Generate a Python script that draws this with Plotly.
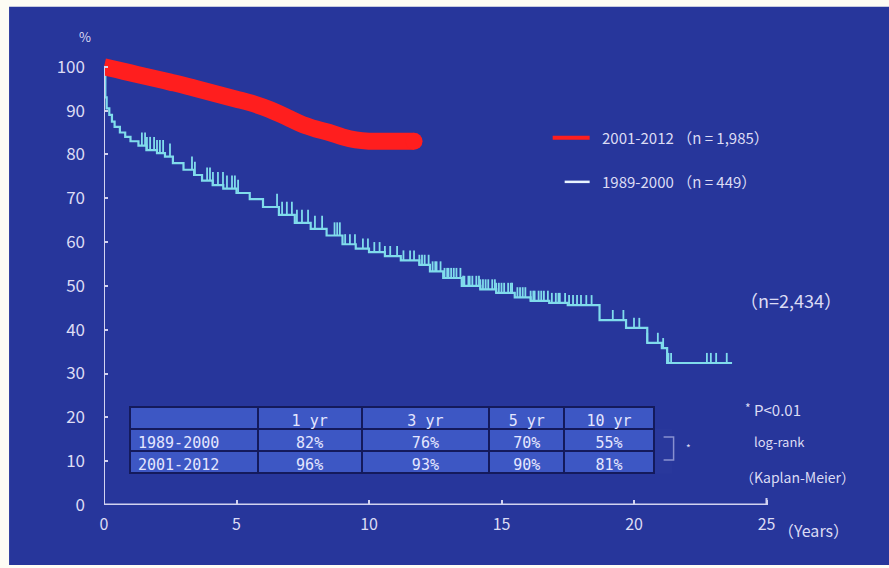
import numpy as np
import plotly.graph_objects as go

# ---------------- data ----------------
red_name = "2001-2012 （n = 1,985）"
cyan_name = "1989-2000 （n = 449）"

red_t = [0, 0.5, 1, 1.5, 2, 2.5, 3, 3.5, 4, 4.5, 5, 5.5, 6, 6.5, 7, 7.5, 8, 8.5, 9, 9.5, 10, 10.5, 11, 11.7]
red_s = [100, 99.3, 98.6, 97.9, 97.2, 96.5, 95.8, 95.0, 94.2, 93.4, 92.6, 91.8, 90.8, 89.6, 88.2, 86.8, 85.8, 85.0, 84.0, 83.3, 83.0, 83.0, 83.0, 83.0]

cyan_t = [0, 0.05, 0.1, 0.2, 0.3, 0.4, 0.6, 0.8, 1.0, 1.3, 1.6, 2.0, 2.3, 2.6, 3.0, 3.4, 3.7, 4.1, 4.5,
          5.0, 5.5, 6.0, 6.6, 7.2, 7.8, 8.4, 9.0, 9.5, 10.0, 10.6, 11.2, 11.9, 12.3, 12.8, 13.5, 14.2,
          14.8, 15.5, 16.1, 16.8, 17.5, 18.7, 19.7, 20.5, 21.05, 21.25, 23.7]
cyan_s = [100, 93, 90.5, 89, 87.5, 86.3, 85, 84, 83, 82, 81, 80.3, 79.5, 78, 76.5, 75.3, 74, 73, 72.2,
          71.2, 69.8, 68, 66.2, 64.4, 63, 61.5, 59.5, 58.5, 57.7, 56.8, 55.8, 54.8, 53.3, 51.8, 50, 49.2,
          48.4, 47.4, 46.6, 46.1, 45.6, 42.2, 40.4, 37, 35.8, 32.4, 32.4]

cyan_censor = [1.43, 1.55, 1.62, 1.74, 1.89, 2.0, 2.11, 2.23, 2.49, 3.32, 3.43, 3.89, 4.0, 4.11, 4.3, 4.49,
               4.64, 4.83, 4.94, 5.06, 6.53, 6.72, 6.9, 7.09, 7.28, 7.47, 7.7, 7.96, 8.23, 8.7, 8.8, 8.9,
               9.1, 9.28, 9.47, 9.77, 9.96, 10.2, 10.4, 10.6, 10.8, 11.06, 11.3, 11.55, 11.7, 11.9,
               12.0, 12.1, 12.25, 12.4, 12.5, 12.55, 12.7, 12.85, 12.95, 13.0, 13.1, 13.2, 13.3, 13.45,
               13.55, 13.6, 13.75, 13.8, 13.9, 14.05, 14.15, 14.2, 14.3, 14.4, 14.5, 14.65, 14.75, 14.8,
               14.9, 15.0, 15.1, 15.25, 15.35, 15.4, 15.6, 15.7, 15.8, 15.9, 16.1, 16.2, 16.25, 16.4,
               16.5, 16.6, 16.75, 16.9, 17.05, 17.15, 17.2, 17.4, 17.55, 17.7, 17.85, 18.0, 18.2, 18.4,
               19.2, 19.6, 20.0, 20.2, 20.5, 20.9, 21.1, 21.3, 21.4, 22.75, 22.9, 23.1, 23.5]

x_ticks = [0, 5, 10, 15, 20, 25]
y_ticks = [0, 10, 20, 30, 40, 50, 60, 70, 80, 90, 100]

table_header = ["", "1 yr", "3 yr", "5 yr", "10 yr"]
table_rows = ["1989-2000", "2001-2012"]
table_1yr = ["82%", "96%"]
table_3yr = ["76%", "93%"]
table_5yr = ["70%", "90%"]
table_10yr = ["55%", "81%"]

# ---------------- layout helpers ----------------
W, H = 889, 568
X0PX, X1PX = 104, 793.5   # plot area in pixels
Y0PX, Y1PX = 505, 58.2
XMAX, YMAX = 26, 102


def px(x):
    return (x - X0PX) / (X1PX - X0PX)


def py(y):
    return (Y0PX - y) / (Y0PX - Y1PX)


BG = "#27369b"
TXT = "#dcdcf4"
CYAN = "#80dcec"
RED = "#ff1e1e"
AX = "#d2d2f0"
FONT = "Noto Sans CJK JP"

fig = go.Figure()

# cyan KM curve
fig.add_trace(go.Scatter(x=cyan_t, y=cyan_s, mode="lines", line=dict(color=CYAN, width=2.2, shape="hv"),
                         name=cyan_name, showlegend=False, hoverinfo="skip"))

# censor ticks for cyan
ct = np.array(cyan_t)
cs = np.array(cyan_s)
tx, ty = [], []
for c in cyan_censor:
    i = np.searchsorted(ct, c, side="right") - 1
    v = cs[i]
    h = 3.0 if c < 9 else 2.3
    tx += [c, c, None]
    ty += [v, v + h, None]
fig.add_trace(go.Scatter(x=tx, y=ty, mode="lines", line=dict(color=CYAN, width=1.8),
                         showlegend=False, hoverinfo="skip"))

# red KM curve (thick band of censor marks)
fig.add_trace(go.Scatter(x=red_t, y=red_s, mode="lines", line=dict(color=RED, width=17, shape="spline"),
                         name=red_name, showlegend=False, hoverinfo="skip"))
fig.add_trace(go.Scatter(x=[red_t[-1]], y=[red_s[-1]], mode="markers", marker=dict(color=RED, size=17),
                         showlegend=False, hoverinfo="skip", cliponaxis=False))

# table
fig.add_trace(go.Table(
    domain=dict(x=[px(130), px(655)], y=[py(474), py(407)]),
    columnwidth=[128, 104, 128, 75, 90],
    header=dict(values=table_header, fill_color="#3d57c4", line=dict(color="#141a5c", width=2),
                font=dict(family="DejaVu Sans Mono", size=15, color="#e4e6ff"), height=22,
                align=["left", "center", "center", "center", "center"]),
    cells=dict(values=[table_rows, table_1yr, table_3yr, table_5yr, table_10yr],
               fill_color="#3d57c4", line=dict(color="#141a5c", width=2),
               font=dict(family="DejaVu Sans Mono", size=15, color="#e4e6ff"), height=22,
               align=["left", "center", "center", "center", "center"]),
))

shapes = [
    # blue panel
    dict(type="rect", xref="paper", yref="paper", x0=px(9), x1=px(892), y0=py(565), y1=py(7),
         fillcolor=BG, line=dict(width=0), layer="below"),
    # axis lines
    dict(type="line", xref="x", yref="y", x0=0, x1=25, y0=0, y1=0, line=dict(color=AX, width=3)),
    dict(type="line", xref="x", yref="y", x0=0, x1=0, y0=0, y1=100, line=dict(color=AX, width=2)),
    dict(type="line", xref="x", yref="y", x0=25, x1=25, y0=0, y1=1.6, line=dict(color=AX, width=2)),
    # legend swatches
    dict(type="line", xref="paper", yref="paper", x0=px(553), x1=px(590), y0=py(138), y1=py(138),
         line=dict(color=RED, width=4)),
    dict(type="line", xref="paper", yref="paper", x0=px(565), x1=px(590), y0=py(182), y1=py(182),
         line=dict(color="#e8f4ff", width=2.5)),
    # bracket
    dict(type="path", xref="paper", yref="paper",
         path=f"M {px(664)} {py(437)} L {px(674)} {py(437)} L {px(674)} {py(460)} L {px(664)} {py(460)}",
         line=dict(color="#8890d0", width=1.5)),
]

ann = []


def add_text(text, x, y, size, anchor="left", color=TXT):
    ann.append(dict(text=text, xref="paper", yref="paper", x=px(x), y=py(y), xanchor=anchor,
                    yanchor="middle", showarrow=False, font=dict(family=FONT, size=size, color=color)))


add_text(red_name, 600, 138, 15)
add_text(cyan_name, 600, 182, 15)
add_text("（n=2,434）", 738, 300, 18)
add_text("*", 743, 408, 12)
add_text("P<0.01", 752, 410, 15)
add_text("log-rank", 752, 442, 13)
add_text("（Kaplan-Meier）", 738, 477, 14)
add_text("*", 689, 448, 10, anchor="center")
add_text("%", 85, 37, 13, anchor="center")
add_text("（Years）", 776, 530, 16)

fig.update_layout(
    width=W, height=H,
    margin=dict(l=X0PX, r=W - X1PX, t=Y1PX, b=H - Y0PX, pad=0),
    paper_bgcolor="#fdfcf4", plot_bgcolor="rgba(0,0,0,0)",
    shapes=shapes, annotations=ann, showlegend=False,
    xaxis=dict(range=[0, XMAX], tickvals=x_ticks, ticktext=[str(v) for v in x_ticks], showgrid=False,
               zeroline=False, showline=False, ticks="inside", ticklen=5, tickwidth=2, tickcolor=AX,
               tickfont=dict(family=FONT, size=16, color=TXT), ticklabelstandoff=8),
    yaxis=dict(range=[0, YMAX], tickvals=y_ticks, showgrid=False, zeroline=False, showline=False,
               ticks="inside", ticklen=4, tickwidth=1.5, tickcolor=AX,
               tickfont=dict(family=FONT, size=17, color=TXT), ticklabelstandoff=18),
)

fig.write_html("out.html")
